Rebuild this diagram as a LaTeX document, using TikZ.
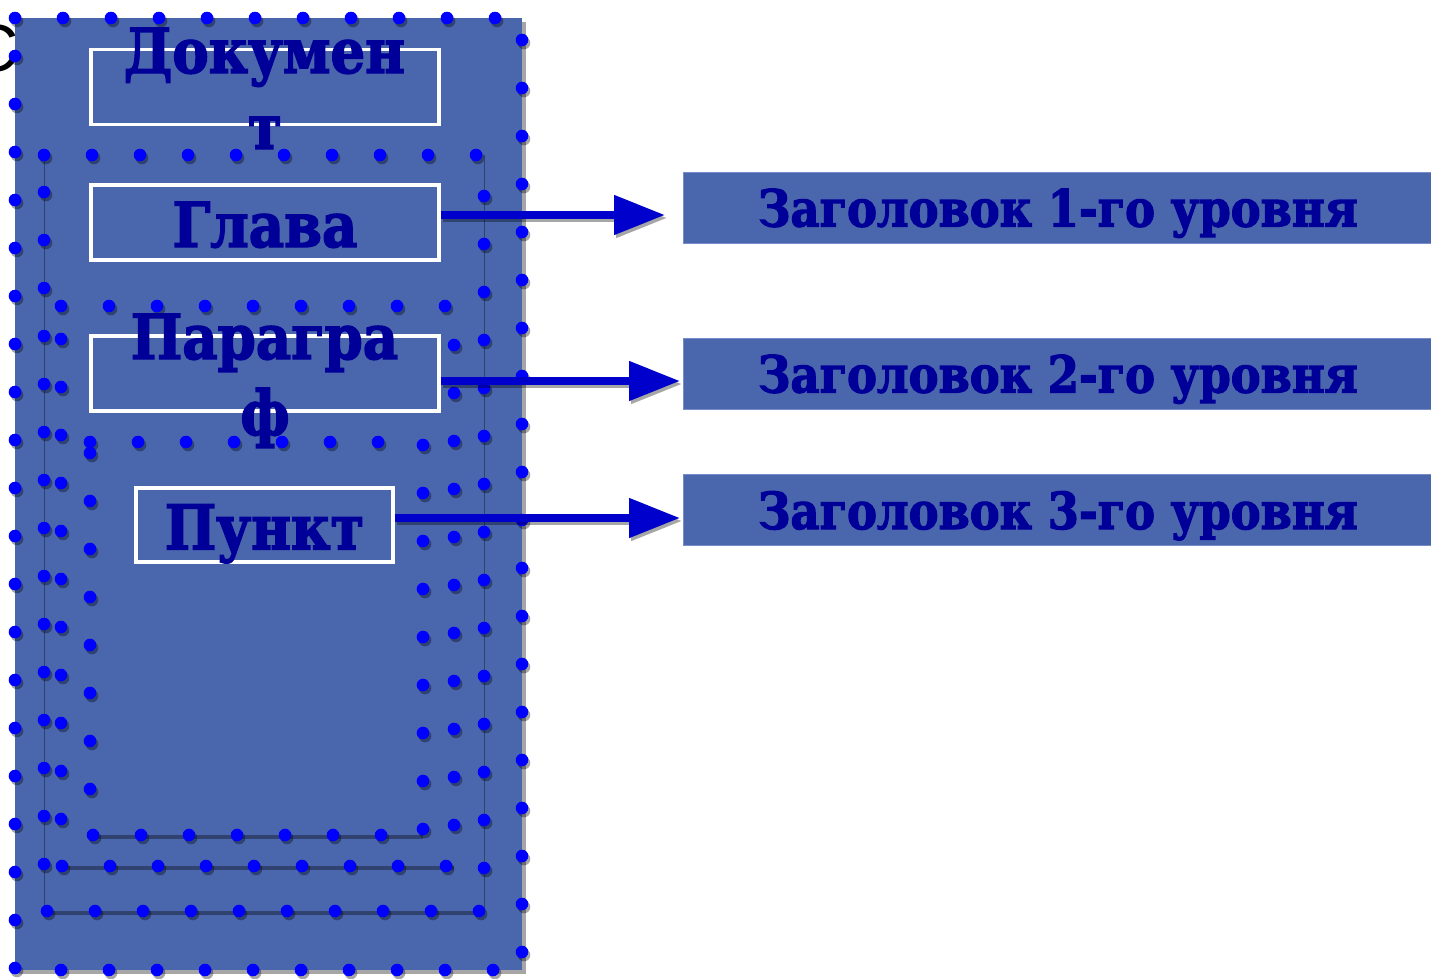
\documentclass[tikz,border=0pt]{standalone}
\usepackage{fontspec}
\setmainfont{Liberation Sans}
\newfontfamily\slab[FakeStretch=0.88, BoldFeatures={FakeBold=2.3}]{DejaVu Serif}
\usetikzlibrary{arrows.meta}
\definecolor{panel}{RGB}{74,102,172}
\definecolor{panelline}{RGB}{120,140,200}
\definecolor{dotblue}{RGB}{0,0,255}
\definecolor{txtblue}{RGB}{0,0,153}
\definecolor{arrblue}{RGB}{0,0,204}
\definecolor{edgeline}{RGB}{48,66,112}
\newcommand\mydot[2]{\fill[black,opacity=.35] (#1+2,#2+3) circle[radius=6.3pt]; \fill[dotblue] (#1,#2) circle[radius=6.3pt];}
\begin{document}
\begin{tikzpicture}[x=1pt,y=-1pt,
  whitebox/.style={draw=white, line width=3.5pt, minimum width=348pt, minimum height=75pt, inner sep=0pt},
  boxlabel/.style={font=\slab\bfseries\fontsize{62}{76}\selectfont, text=txtblue, inner sep=0pt},
  headbox/.style={fill=panel, draw=panelline, line width=1pt, minimum width=750pt, minimum height=71pt, inner sep=0pt,
     font=\slab\bfseries\fontsize{51}{56}\selectfont, text=txtblue, text height=38pt, text depth=0pt},
  arrowline/.style={draw=arrblue, line width=8pt, -{Triangle[length=51pt,width=38pt]}},
  arrowshade/.style={draw=black, opacity=.35, line width=8pt, -{Triangle[length=51pt,width=38pt]}},
  thinedge/.style={draw=edgeline, line width=1pt},
  thickedge/.style={draw=edgeline, line width=4pt}
]
\useasboundingbox (0,0) rectangle (1431,978);
% partly hidden title letter
\node[font=\fontsize{67}{67}\selectfont, text=black, inner sep=0pt, anchor=base east] (ttl) at (19,71) {С};
% main panel with shadow
\fill[black,opacity=.35] (19,22) rectangle (526,974);
\fill[panel] (15,18) rectangle (522,970);
% nested frame lines
\draw[thinedge] (44,155) -- (44,913);
\draw[thinedge] (484,155) -- (484,913);
\draw[thickedge] (44,913) -- (484,913);
\draw[thickedge] (62,868) -- (454,868);
\draw[thickedge] (93,837) -- (423,837);
% outer dotted frame
\foreach \k in {0,...,10} {\mydot{15+48*\k}{18}}
\foreach \k in {0,...,19} {\mydot{522}{40+48*\k}}
\foreach \k in {0,...,9} {\mydot{61+48*\k}{970}}
\foreach \k in {0,...,19} {\mydot{15}{56+48*\k}}
% level 2
\foreach \k in {0,...,9} {\mydot{44+48*\k}{155}}
\foreach \k in {0,...,14} {\mydot{484}{196+48*\k}}
\foreach \k in {0,...,9} {\mydot{47+48*\k}{911}}
\foreach \k in {0,...,14} {\mydot{44}{192+48*\k}}
% level 3
\foreach \k in {0,...,8} {\mydot{61+48*\k}{306}}
\foreach \k in {0,...,10} {\mydot{454}{345+48*\k}}
\foreach \k in {0,...,8} {\mydot{62+48*\k}{866}}
\foreach \k in {0,...,10} {\mydot{61}{339+48*\k}}
% level 4
\foreach \k in {0,...,6} {\mydot{90+48*\k}{442}}
\foreach \k in {0,...,8} {\mydot{423}{445+48*\k}}
\foreach \k in {0,...,6} {\mydot{93+48*\k}{835}}
\foreach \k in {0,...,7} {\mydot{90}{453+48*\k}}
% boxes
\node[whitebox] (doc) at (265,87) {};
\node[boxlabel, anchor=base] (docA) at (264.5,73) {Докумен};
\node[boxlabel, anchor=base] (docB) at (265,149) {т};
\node[whitebox, boxlabel, text height=49pt, text depth=0pt] (glava) at (265,222.5) {Глава};
\node[whitebox] (para) at (265,373.5) {};
\node[boxlabel, anchor=base] (paraA) at (264.5,359) {Парагра};
\node[boxlabel, anchor=base] (paraB) at (265,435) {ф};
\node[whitebox, boxlabel, minimum width=257pt, minimum height=74pt, text height=49pt, text depth=0pt] (punkt) at (264.5,525) {Пункт};
% heading boxes
\node[headbox] (h1) at (1058,207.5) {Заголовок 1-го уровня};
\node[headbox] (h2) at (1058,373.5) {Заголовок 2-го уровня};
\node[headbox] (h3) at (1058,510) {Заголовок 3-го уровня};
% arrows
\coordinate (a1) at (665,215);
\coordinate (a2) at (680,381);
\coordinate (a3) at (680,518);
\begin{scope}[transform canvas={shift={(2,3)}}]
\draw[arrowshade] (glava.east |- a1) -- (a1);
\draw[arrowshade] (para.east |- a2) -- (a2);
\draw[arrowshade] (punkt.east |- a3) -- (a3);
\end{scope}
\draw[arrowline] (glava.east |- a1) -- (a1);
\draw[arrowline] (para.east |- a2) -- (a2);
\draw[arrowline] (punkt.east |- a3) -- (a3);
\end{tikzpicture}
\end{document}
